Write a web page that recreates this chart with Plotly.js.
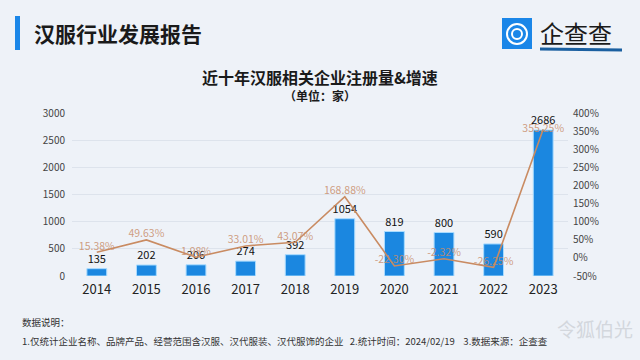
<!DOCTYPE html>
<html><head><meta charset="utf-8">
<script src="https://cdn.plot.ly/plotly-3.0.1.min.js"></script>
<style>html,body{margin:0;padding:0;background:#eef2f8;}#chart{width:640px;height:360px;}</style>
</head><body><div id="chart"></div>
<script>
const years = ['2014','2015','2016','2017','2018','2019','2020','2021','2022','2023'];
const counts = [135,202,206,274,392,1054,819,800,590,2686];
const growth = [15.38,49.63,1.98,33.01,43.07,168.88,-22.30,-2.32,-26.25,355.25];
const countTicks = [0,500,1000,1500,2000,2500,3000];
const growthTicks = [-50,0,50,100,150,200,250,300,350,400];

const FONT = '"Noto Sans CJK SC", "Noto Sans", sans-serif';
const L = 72, R = 568, T = 113, B = 276;
const px = x => (x - L) / (R - L);
const py = y => (B - y) / (B - T);

const bar = {
  type: 'bar', x: years, y: counts, yaxis: 'y',
  width: 0.4,
  marker: {color: '#1b87e0', line: {color: '#a9dcff', width: 1}},
  text: counts.map(String), textposition: 'outside', cliponaxis: false, constraintext: 'none',
  textfont: {family: FONT, size: 11, color: '#111'},
  hoverinfo: 'none'
};
const line = {
  type: 'scatter', mode: 'lines+text', x: years, y: growth, yaxis: 'y2',
  line: {color: '#c98b62', width: 1.6},
  text: growth.map(v => v.toFixed(2) + '%'),
  textposition: growth.map((v, i) => i === growth.length - 1 ? 'middle center' : 'top center'),
  textfont: {family: FONT, size: 10.5, color: 'rgba(200,140,105,0.85)'},
  cliponaxis: false, hoverinfo: 'none'
};

const shapes = [
  {type: 'rect', xref: 'paper', yref: 'paper', x0: px(15), x1: px(20), y0: py(50), y1: py(16),
   fillcolor: '#1a86e8', line: {width: 0}},
  {type: 'rect', xref: 'paper', yref: 'paper', x0: px(502), x1: px(532), y0: py(49), y1: py(18),
   fillcolor: '#1a86e8', line: {width: 0}},
  {type: 'circle', xref: 'paper', yref: 'paper', x0: px(507), x1: px(527), y0: py(44), y1: py(24),
   fillcolor: 'rgba(0,0,0,0)', line: {color: '#ffffff', width: 2}},
  {type: 'circle', xref: 'paper', yref: 'paper', x0: px(512), x1: px(522), y0: py(39), y1: py(29),
   fillcolor: 'rgba(0,0,0,0)', line: {color: '#ffffff', width: 2}},
  {type: 'line', xref: 'paper', yref: 'paper', x0: px(540), x1: px(622), y0: py(49), y1: py(50),
   line: {color: '#1a5fa0', width: 3}}
];

const ann = (x, y, text, size, color, anchor, bold) => ({
  xref: 'paper', yref: 'paper', x: px(x), y: py(y), text: bold ? '<b>' + text + '</b>' : text,
  showarrow: false, xanchor: anchor || 'left', yanchor: 'middle',
  font: {family: FONT, size: size, color: color}
});

const annotations = [
  ann(32, 33, '汉服行业发展报告', 21, '#1a1a1a', 'left', true),
  ann(538, 32, '企查查', 24, '#1a1a1a', 'left', false),
  ann(320, 77, '近十年汉服相关企业注册量&增速', 16, '#1a1a1a', 'center', true),
  ann(320, 96, '（单位：家）', 12, '#1a1a1a', 'center', true),
  ann(20, 322, '数据说明：', 9.5, '#333', 'left', false),
  ann(20, 341, '1.仅统计企业名称、品牌产品、经营范围含汉服、汉代服装、汉代服饰的企业   2.统计时间：2024/02/19    3.数据来源：企查查', 9.5, '#333', 'left', false),
  ann(555, 328, '令狐伯光', 19, '#d3d7dd', 'left', false)
];

const layout = {
  width: 640, height: 360,
  margin: {l: L, r: 640 - R, t: T, b: 360 - B},
  paper_bgcolor: '#eef2f8', plot_bgcolor: 'rgba(0,0,0,0)',
  showlegend: false,
  bargap: 0.6,
  xaxis: {type: 'category', showgrid: false, zeroline: false, showline: false, ticks: '',
    tickfont: {family: FONT, size: 13, color: '#222'}, ticklabelstandoff: 4},
  yaxis: {range: [0, 3000], tickvals: countTicks, showgrid: true, gridcolor: '#dde3ec', gridwidth: 1,
    zeroline: false, showline: false, ticks: '', ticklabelstandoff: 6,
    tickfont: {family: FONT, size: 10, color: '#444'}},
  yaxis2: {overlaying: 'y', side: 'right', range: [-50, 400], tickvals: growthTicks,
    ticktext: growthTicks.map(v => v + '%'), showgrid: false, zeroline: false, showline: false,
    ticks: '', ticklabelstandoff: 4, tickfont: {family: FONT, size: 10, color: '#444'}},
  shapes: shapes, annotations: annotations
};

Plotly.newPlot('chart', [bar, line], layout, {displayModeBar: false, staticPlot: true});
</script></body></html>
